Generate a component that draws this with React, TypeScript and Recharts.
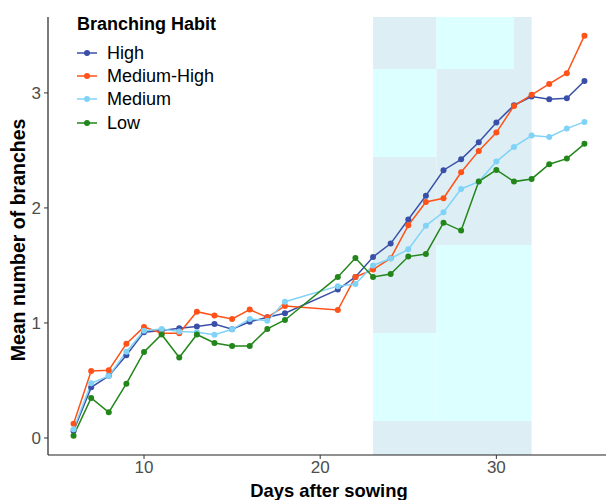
import React from 'react';
import { LineChart, Line, XAxis, YAxis, ReferenceArea, Legend, Label } from 'recharts';

const days = [6, 7, 8, 9, 10, 11, 12, 13, 14, 15, 16, 17, 18, 21, 22, 23, 24, 25, 26, 27, 28, 29, 30, 31, 32, 33, 34, 35];
const high = [0.06, 0.44, 0.54, 0.72, 0.92, 0.935, 0.955, 0.97, 0.99, 0.945, 1.01, 1.05, 1.085, 1.29, 1.40, 1.574, 1.69, 1.90, 2.107, 2.328, 2.423, 2.571, 2.742, 2.893, 2.968, 2.945, 2.953, 3.104];
const mediumHigh = [0.124, 0.583, 0.589, 0.82, 0.965, 0.91, 0.91, 1.098, 1.064, 1.035, 1.116, 1.049, 1.148, 1.112, 1.40, 1.464, 1.563, 1.849, 2.052, 2.084, 2.31, 2.496, 2.655, 2.887, 2.983, 3.078, 3.171, 3.498];
const medium = [0.075, 0.475, 0.539, 0.75, 0.933, 0.948, 0.925, 0.919, 0.898, 0.945, 1.035, 1.02, 1.185, 1.32, 1.339, 1.50, 1.56, 1.64, 1.846, 1.962, 2.165, 2.229, 2.403, 2.53, 2.629, 2.617, 2.69, 2.748];
const low = [0.02, 0.348, 0.223, 0.472, 0.748, 0.90, 0.70, 0.90, 0.826, 0.80, 0.80, 0.948, 1.026, 1.40, 1.564, 1.40, 1.426, 1.577, 1.60, 1.872, 1.803, 2.229, 2.33, 2.229, 2.252, 2.38, 2.429, 2.557];

const xTicks = [10, 20, 30];
const yTicks = [0, 1, 2, 3];
const xDomain = [4.55, 36.45];
const yDomain = [-0.148, 3.66];

const seriesNames = ['High', 'Medium-High', 'Medium', 'Low'];
const seriesKeys = ['high', 'mediumHigh', 'medium', 'low'];
const seriesColors = ['#3A50A8', '#FF5218', '#80D3F7', '#22861A'];

// background tiles: [x1, x2, y1, y2, shade]
const tiles: [number, number, number, number, 'd' | 'l'][] = [
  [23, 26.6, 3.208, 3.66, 'd'],
  [26.6, 31, 3.208, 3.66, 'l'],
  [31, 32, 1.678, 3.66, 'd'],
  [23, 26.6, 2.443, 3.208, 'l'],
  [26.6, 31, 1.678, 3.208, 'd'],
  [23, 26.6, 0.913, 2.443, 'd'],
  [26.6, 32, 0.148, 1.678, 'l'],
  [23, 26.6, 0.148, 0.913, 'l'],
  [23, 32, -0.148, 0.148, 'd'],
];
const shadeColors = { d: '#DDEFF5', l: '#DCFFFF' };

const data = days.map((d, i) => ({
  day: d,
  high: high[i],
  mediumHigh: mediumHigh[i],
  medium: medium[i],
  low: low[i],
}));

const FONT = '"Liberation Sans", Arial, Helvetica, sans-serif';

const LegendBox = () => (
  <div style={{ fontFamily: FONT, color: '#000' }}>
    <div style={{ fontWeight: 'bold', fontSize: 18, lineHeight: '20px', height: 20, whiteSpace: 'nowrap' }}>Branching Habit</div>
    <div style={{ height: 7 }} />
    {seriesNames.map((n, i) => (
      <div key={n} style={{ display: 'flex', alignItems: 'center', height: 23.3, whiteSpace: 'nowrap' }}>
        <svg width={20} height={10} style={{ display: 'block' }}>
          <line x1={0} y1={5} x2={20} y2={5} stroke={seriesColors[i]} strokeWidth={1.5} />
          <circle cx={10} cy={5} r={3} fill={seriesColors[i]} />
        </svg>
        <span style={{ marginLeft: 10, fontSize: 18, lineHeight: '20px' }}>{n}</span>
      </div>
    ))}
  </div>
);

const XTitle = (props: any) => {
  const vb = props.viewBox || { x: 48, y: 455, width: 562, height: 45 };
  return (
    <text x={vb.x + vb.width / 2} y={vb.y + vb.height - 3} textAnchor="middle" fontFamily={FONT} fontWeight="bold" fontSize={18.4} fill="#000">
      Days after sowing
    </text>
  );
};

const YTitle = (props: any) => {
  const vb = props.viewBox || { x: 0, y: 17, width: 48, height: 438 };
  const cx = vb.x + 18;
  const cy = vb.y + vb.height / 2 + 4;
  return (
    <text x={cx} y={cy} transform={`rotate(-90 ${cx} ${cy})`} textAnchor="middle" dominantBaseline="central" fontFamily={FONT} fontWeight="bold" fontSize={19.5} fill="#000">
      Mean number of branches
    </text>
  );
};

export default function App() {
  return (
    <div style={{ position: 'absolute', left: 0, top: 0, width: 606, height: 500, overflow: 'hidden', background: '#fff' }}>
      <LineChart width={612} height={500} data={data} margin={{ top: 17, right: 2, bottom: 0, left: 0 }}>
        <XAxis
          dataKey="day"
          type="number"
          domain={xDomain}
          ticks={xTicks}
          allowDataOverflow
          height={45}
          tickSize={4}
          tickMargin={2}
          axisLine={{ stroke: '#222', strokeWidth: 1.2 }}
          tickLine={{ stroke: '#333' }}
          tick={{ fill: '#4D4D4D', fontSize: 17, fontFamily: FONT }}
        >
          <Label content={<XTitle />} />
        </XAxis>
        <YAxis
          type="number"
          domain={yDomain}
          ticks={yTicks}
          allowDataOverflow
          width={48}
          tickSize={4}
          tickMargin={3}
          axisLine={{ stroke: '#222', strokeWidth: 1.2 }}
          tickLine={{ stroke: '#333' }}
          tick={{ fill: '#4D4D4D', fontSize: 17, fontFamily: FONT }}
        >
          <Label content={<YTitle />} />
        </YAxis>
        {tiles.map((t, i) => (
          <ReferenceArea
            key={i}
            x1={t[0]}
            x2={t[1]}
            y1={t[2]}
            y2={t[3]}
            fill={shadeColors[t[4]]}
            fillOpacity={1}
            stroke="none"
            ifOverflow="visible"
          />
        ))}
        {seriesKeys.map((k, i) => (
          <Line
            key={k}
            dataKey={k}
            name={seriesNames[i]}
            type="linear"
            stroke={seriesColors[i]}
            strokeWidth={1.5}
            dot={{ r: 3, fill: seriesColors[i], stroke: seriesColors[i], strokeWidth: 0 }}
            activeDot={false}
            isAnimationActive={false}
          />
        ))}
        <Legend
          layout="horizontal"
          verticalAlign="middle"
          align="center"
          content={() => <LegendBox />}
          wrapperStyle={{ left: 77, top: 14, width: 'auto', height: 'auto' }}
        />
      </LineChart>
    </div>
  );
}
